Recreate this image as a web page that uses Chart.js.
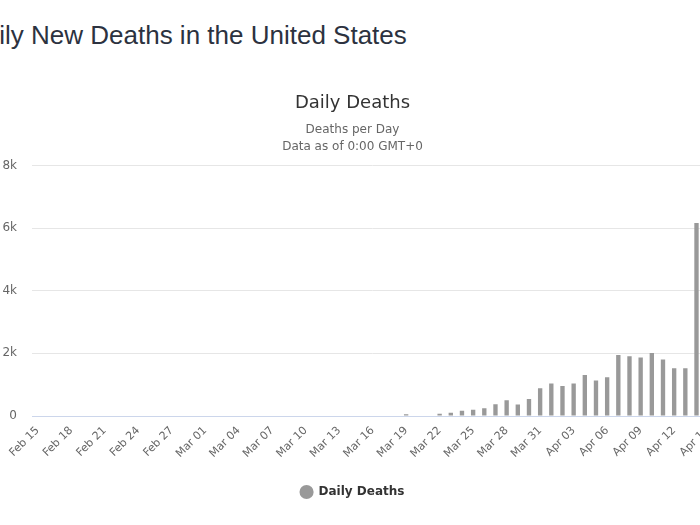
<!DOCTYPE html>
<html>
<head>
<meta charset="utf-8">
<script src="https://cdn.jsdelivr.net/npm/chart.js@4.4.0/dist/chart.umd.min.js"></script>
<style>
  html, body { margin: 0; padding: 0; background: #fff; }
  body { width: 700px; height: 525px; overflow: hidden; position: relative; }
  #pageTitle {
    position: absolute; left: -34px; top: 20px; margin: 0;
    font: 26px/30px "Liberation Sans", Arial, sans-serif;
    color: #2c3240; white-space: nowrap; font-weight: normal;
  }
  #chartBox { position: absolute; left: -20px; top: 70px; }
</style>
</head>
<body>
<h1 id="pageTitle">Daily New Deaths in the United States</h1>
<div id="chartBox"><canvas id="myChart" width="745" height="455"></canvas></div>
<script>
// day labels shown on the x axis (every 3rd one is printed)
const days = [
  'Feb 15', 'Feb 16', 'Feb 17', 'Feb 18', 'Feb 19', 'Feb 20', 'Feb 21', 'Feb 22',
  'Feb 23', 'Feb 24', 'Feb 25', 'Feb 26', 'Feb 27', 'Feb 28', 'Feb 29',
  'Mar 01', 'Mar 02', 'Mar 03', 'Mar 04', 'Mar 05', 'Mar 06', 'Mar 07', 'Mar 08',
  'Mar 09', 'Mar 10', 'Mar 11', 'Mar 12', 'Mar 13', 'Mar 14', 'Mar 15', 'Mar 16',
  'Mar 17', 'Mar 18', 'Mar 19', 'Mar 20', 'Mar 21', 'Mar 22', 'Mar 23', 'Mar 24',
  'Mar 25', 'Mar 26', 'Mar 27', 'Mar 28', 'Mar 29', 'Mar 30', 'Mar 31',
  'Apr 01', 'Apr 02', 'Apr 03', 'Apr 04', 'Apr 05', 'Apr 06', 'Apr 07', 'Apr 08',
  'Apr 09', 'Apr 10', 'Apr 11', 'Apr 12', 'Apr 13', 'Apr 14', 'Apr 15',
];

// deaths per day (nothing visible before Mar 19)
const dailyDeaths = [
  0, 0, 0, 0, 0, 0, 0, 0, 0, 0, 0, 0, 0, 0, 0,
  0, 0, 0, 0, 0, 0, 0, 0, 0, 0, 0, 0, 0, 0, 0, 0,
  0, 0, 55, 0, 0, 75, 105, 170, 200, 250, 375, 500, 365, 545, 885,
  1035, 960, 1035, 1310, 1130, 1240, 1950, 1910, 1865, 2015, 1800, 1525, 1525, 6160,
  null,
];

const yTicks = [0, 2000, 4000, 6000, 8000];
const yTickLabels = ['0', '2k', '4k', '6k', '8k'];

const chartFont = '"DejaVu Sans", "Lucida Grande", Verdana, sans-serif';

const ctx = document.getElementById('myChart');
new Chart(ctx, {
  type: 'bar',
  data: {
    labels: days,
    datasets: [
      {
        label: 'Daily Deaths',
        data: dailyDeaths,
        backgroundColor: '#999999',
        borderWidth: 0,
        barPercentage: 0.39,
        categoryPercentage: 1,
      },
    ],
  },
  options: {
    responsive: false,
    animation: false,
    devicePixelRatio: 1,
    layout: { padding: { left: 0, right: 0, top: 0, bottom: 17 } },
    plugins: {
      title: {
        display: true,
        text: 'Daily Deaths',
        color: '#333333',
        font: { family: chartFont, size: 18, weight: 'normal', lineHeight: 1.2 },
        padding: { top: 23, bottom: 5 },
      },
      subtitle: {
        display: true,
        text: ['Deaths per Day', 'Data as of 0:00 GMT+0'],
        color: '#666666',
        font: { family: chartFont, size: 12, weight: 'normal', lineHeight: 1.41 },
        padding: { top: 2, bottom: 10 },
      },
      legend: {
        position: 'bottom',
        labels: {
          usePointStyle: true,
          pointStyle: 'circle',
          boxHeight: 10,
          padding: 10,
          color: '#333333',
          font: { family: chartFont, size: 12, weight: 'bold' },
        },
      },
      tooltip: { enabled: false },
    },
    scales: {
      x: {
        grid: { display: false, drawTicks: false },
        border: { display: true, color: '#ccd6eb', width: 1 },
        ticks: {
          autoSkip: false,
          minRotation: 45,
          maxRotation: 45,
          padding: 8,
          color: '#666666',
          font: { family: chartFont, size: 11 },
          callback: (value, index) => (index % 3 === 0 ? days[index] : ''),
        },
        afterFit: (scale) => { scale.height = 60; },
      },
      y: {
        min: 0,
        max: 8000,
        afterBuildTicks: (scale) => { scale.ticks = yTicks.map((v) => ({ value: v })); },
        grid: { color: '#e6e6e6', drawTicks: false },
        border: { display: false },
        ticks: {
          padding: 15,
          color: '#666666',
          font: { family: chartFont, size: 12 },
          callback: (value) => yTickLabels[yTicks.indexOf(value)],
        },
        afterFit: (scale) => { scale.width = 52; },
      },
    },
  },
});
</script>
</body>
</html>
